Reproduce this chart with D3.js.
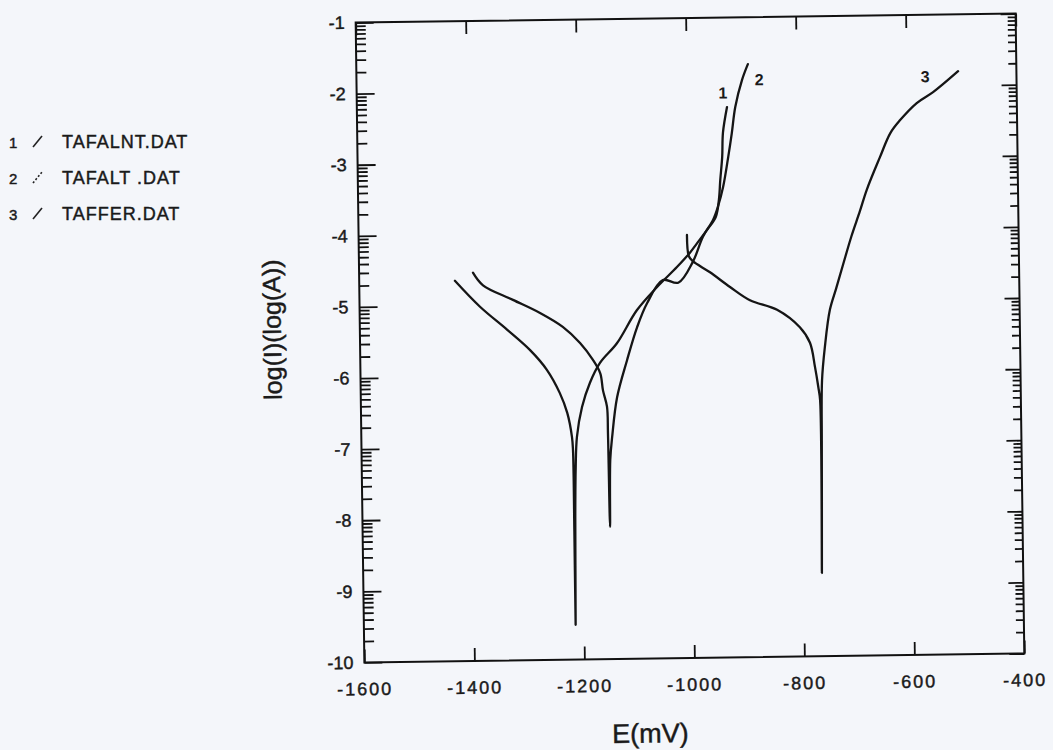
<!DOCTYPE html>
<html>
<head>
<meta charset="utf-8">
<script src="https://cdn.jsdelivr.net/npm/d3@7"></script>
<style>
  body { margin: 0; background: #f4f6fa; }
  svg { display: block; font-family: "Liberation Sans", Arial, sans-serif; }
  svg text { fill: #1a1a1a; stroke: #1a1a1a; stroke-width: 0.45px; }
  .axis path { display: none; }
  .axis line { stroke: #111; stroke-width: 1.8; }
  .axis text { font-size: 18px; font-family: "Liberation Sans", Arial, sans-serif; }
  .curve { fill: none; stroke: #151515; stroke-width: 2.3; stroke-linejoin: round; stroke-linecap: round; }
</style>
</head>
<body>
<script>
// E (mV), log(I)
const curve1 = [
  [-1426, -4.65], [-1381, -5.02], [-1332, -5.35], [-1291, -5.64], [-1261, -5.92],
  [-1238, -6.25], [-1225, -6.53], [-1217, -6.87], [-1215.5, -7.05], [-1215, -8.2],
  [-1215, -9.51], [-1213, -8.0], [-1211, -7.3], [-1208, -6.87], [-1198, -6.45],
  [-1183, -6.11], [-1164, -5.83], [-1133, -5.56], [-1096, -5.10], [-1059, -4.78],
  [-1022, -4.50], [-998, -4.30], [-985, -4.17], [-966, -3.98], [-950, -3.80],
  [-944, -3.56], [-941, -3.28], [-937, -2.96], [-935, -2.62], [-927, -2.26]
];
const curve2 = [
  [-1393, -4.54], [-1375, -4.72], [-1321, -4.93], [-1272, -5.12], [-1231, -5.32],
  [-1200, -5.55], [-1177, -5.79], [-1164, -5.98], [-1159.5, -6.22], [-1152.6, -6.45],
  [-1151.5, -6.82], [-1150, -8.14], [-1148, -7.2], [-1144, -6.88], [-1134, -6.32],
  [-1115, -5.80], [-1096, -5.34], [-1077, -5.00], [-1048, -4.68], [-1020, -4.72],
  [-993, -4.43], [-974, -4.08], [-955, -3.84], [-946, -3.66], [-936, -3.38],
  [-926, -2.96], [-919, -2.63], [-912, -2.26], [-899, -1.88], [-888, -1.66]
];
const curve3 = [
  [-1003, -4.05], [-1000, -4.35], [-993, -4.42], [-962, -4.58], [-926, -4.79],
  [-890, -4.98], [-841, -5.12], [-800, -5.37], [-782, -5.59], [-773.5, -5.93],
  [-768, -6.21], [-765, -6.40], [-766, -8.83], [-763, -7.0], [-761, -6.12],
  [-755, -5.65], [-745, -5.13], [-733, -4.83], [-720, -4.50], [-704, -4.10],
  [-688, -3.75], [-675, -3.45], [-650, -2.99], [-631, -2.66],
  [-613, -2.48], [-582, -2.24], [-552, -2.09], [-506, -1.80]
];

const curveNames = ["1", "2", "3"];
const curveLabelE = [-934, -868, -566];
const curveLabelL = [-2.06, -1.88, -1.87];

const legendNames = ["TAFALNT.DAT", "TAFALT .DAT", "TAFFER.DAT"];

const xTicks = [-1600, -1400, -1200, -1000, -800, -600, -400];
const yTicks = [-10, -9, -8, -7, -6, -5, -4, -3, -2, -1];
const minorSteps = [2, 3, 4, 5, 6, 7, 8, 9];

const width = 1053;
const height = 750;
const plotLeft = 360, plotRight = 1020, plotTop = 18, plotBottom = 658;

const svg = d3.select("body")
  .append("svg")
  .attr("width", width)
  .attr("height", height);

const x = d3.scaleLinear().domain([-1600, -400]).range([plotLeft, plotRight]);
const y = d3.scaleLinear().domain([-10, -1]).range([plotBottom, plotTop]);

// the scanned plot sits slightly tilted
const g = svg.append("g").attr("transform", "rotate(-0.78,690,338)");

const minorTicks = [];
yTicks.slice(0, -1).forEach(d => minorSteps.forEach(k => minorTicks.push(d + Math.log10(k))));

g.append("g").attr("class", "axis")
  .attr("transform", `translate(${plotLeft},0)`)
  .call(d3.axisLeft(y).tickValues(yTicks).tickSizeInner(-18).tickSizeOuter(0)
    .tickPadding(11).tickFormat(d => String(d)));

g.append("g").attr("class", "axis")
  .attr("transform", `translate(${plotLeft},0)`)
  .call(d3.axisLeft(y).tickValues(minorTicks).tickSizeInner(-10).tickSizeOuter(0).tickFormat(""));

g.append("g").attr("class", "axis")
  .attr("transform", `translate(${plotRight},0)`)
  .call(d3.axisRight(y).tickValues(yTicks).tickSizeInner(-15).tickSizeOuter(0).tickFormat(""));

g.append("g").attr("class", "axis")
  .attr("transform", `translate(${plotRight},0)`)
  .call(d3.axisRight(y).tickValues(minorTicks).tickSizeInner(-8).tickSizeOuter(0).tickFormat(""));

g.append("g").attr("class", "axis")
  .attr("transform", `translate(0,${plotTop})`)
  .call(d3.axisTop(x).tickValues(xTicks).tickSizeInner(-13).tickSizeOuter(0).tickFormat(""));

g.append("g").attr("class", "axis")
  .attr("transform", `translate(0,${plotBottom})`)
  .call(d3.axisBottom(x).tickValues(xTicks).tickSizeInner(-13).tickSizeOuter(0)
    .tickPadding(20).tickFormat(d => String(d)))
  .selectAll("text")
  .style("letter-spacing", "2px");

g.append("rect")
  .attr("x", plotLeft)
  .attr("y", plotTop)
  .attr("width", plotRight - plotLeft)
  .attr("height", plotBottom - plotTop)
  .attr("fill", "none")
  .attr("stroke", "#111")
  .attr("stroke-width", 2);

const line = d3.line()
  .x(d => x(d[0]))
  .y(d => y(d[1]))
  .curve(d3.curveCatmullRom.alpha(0.5));

g.selectAll(".curve")
  .data([curve1, curve2, curve3])
  .enter()
  .append("path")
  .attr("class", "curve")
  .attr("d", line);

g.selectAll(".clabel")
  .data(curveNames)
  .enter()
  .append("text")
  .attr("class", "clabel")
  .attr("x", (d, i) => x(curveLabelE[i]))
  .attr("y", (d, i) => y(curveLabelL[i]))
  .attr("dy", "0.35em")
  .attr("text-anchor", "middle")
  .style("font-size", "16px")
  .style("font-weight", "bold")
  .style("stroke-width", "0")
  .text(d => d);

g.append("text")
  .attr("x", 645)
  .attr("y", 742)
  .attr("text-anchor", "middle")
  .style("font-size", "27px")
  .text("E(mV)");

g.append("text")
  .attr("transform", "translate(281,324) rotate(-90)")
  .attr("text-anchor", "middle")
  .style("font-size", "25px")
  .text("log(I)(log(A))");

// legend
const legend = svg.append("g");
const rows = legend.selectAll("g")
  .data(legendNames)
  .enter()
  .append("g")
  .attr("transform", (d, i) => `translate(0,${148 + i * 36})`);

rows.append("text")
  .attr("x", 9)
  .attr("y", 0)
  .style("font-size", "15px")
  .text((d, i) => curveNames[i]);

rows.append("line")
  .attr("x1", 33).attr("y1", -1)
  .attr("x2", 42).attr("y2", -12)
  .attr("stroke", "#222")
  .attr("stroke-width", 1.6)
  .attr("stroke-dasharray", (d, i) => i === 1 ? "2,2" : null);

rows.append("text")
  .attr("x", 62)
  .attr("y", 0)
  .style("font-size", "18px")
  .style("letter-spacing", "1px")
  .text(d => d);
</script>
</body>
</html>
